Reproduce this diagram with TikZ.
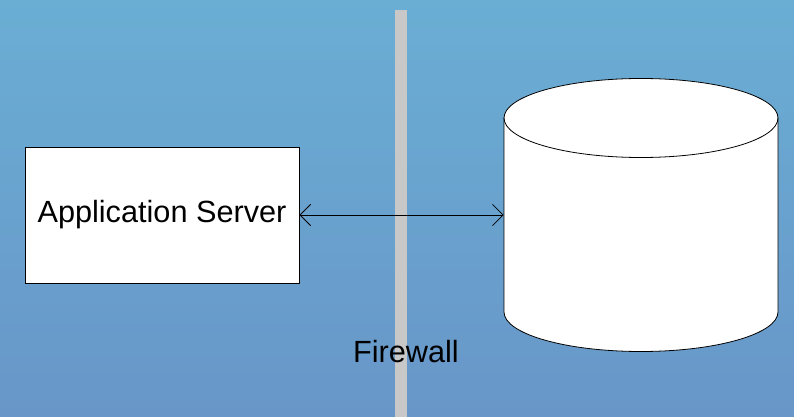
\documentclass[tikz,border=0pt]{standalone}
\usepackage{fontspec}
\setmainfont{Liberation Sans}
\usetikzlibrary{arrows.meta}
\definecolor{skytop}{RGB}{106,174,212}
\definecolor{skybot}{RGB}{104,150,200}
\definecolor{wallgray}{RGB}{200,200,200}
\tikzset{
  label text/.style={font=\fontsize{23}{27}\selectfont},
  server/.style={draw=black,fill=white,line width=0.6pt,minimum width=205.5pt,minimum height=102pt,inner sep=0pt,label text},
  link/.style={line width=0.6pt,{Straight Barb[length=8pt,width=16pt]}-{Straight Barb[length=8pt,width=16pt]}}
}
\begin{document}
\begin{tikzpicture}[x=0.75pt,y=-0.75pt]
  % background
  \shade[top color=skytop,bottom color=skybot] (0,0) rectangle (794,417);
  \useasboundingbox (0,0) rectangle (794,417);

  % firewall
  \fill[wallgray] (395,10) rectangle (407,417);
  \node[label text] (fwlabel) at (406,352) {Firewall};

  % application server
  \node[server] (appsrv) at (162,215) {Application Server};

  % database cylinder
  \node[minimum width=205.5pt,minimum height=145.5pt,inner sep=0pt] (db) at (641,215) {};
  \draw[fill=white,line width=0.6pt] (504,118) -- (504,312)
      arc[start angle=180,end angle=0,x radius=137,y radius=39.5]
      -- (778,118)
      arc[start angle=0,end angle=-180,x radius=137,y radius=39.5] -- cycle;
  \draw[line width=0.6pt] (504,118) arc[start angle=180,end angle=0,x radius=137,y radius=39.5];

  \draw[link] (appsrv.east) -- (db.west);
\end{tikzpicture}
\end{document}
